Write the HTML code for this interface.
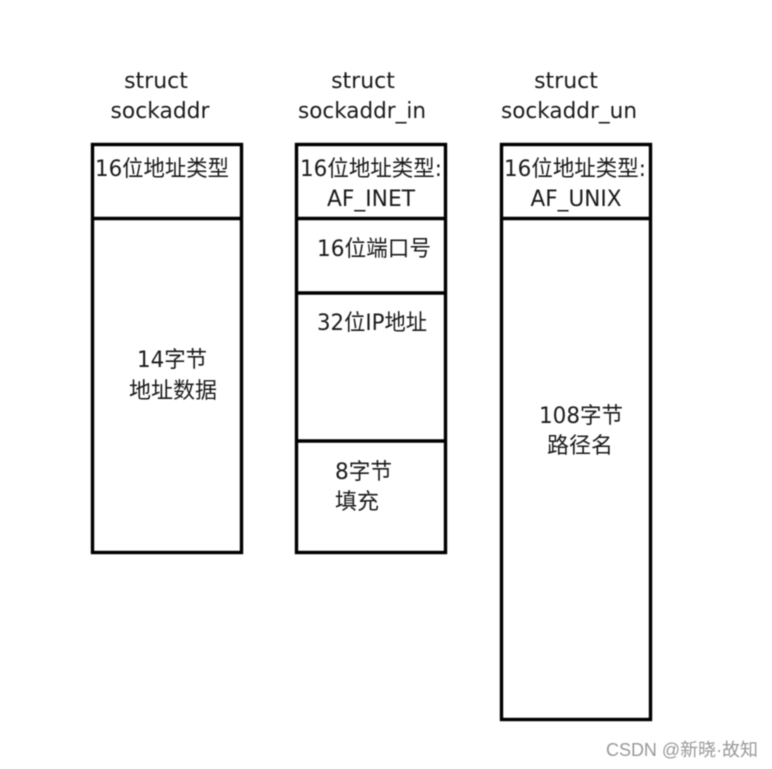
<!DOCTYPE html>
<html><head><meta charset="utf-8">
<style>
html,body{margin:0;padding:0;background:#fff}
svg{display:block;filter:blur(0.6px)}
text{font-family:"DejaVu Sans","WenQuanYi Zen Hei","Noto Sans CJK SC",sans-serif;font-size:22px;fill:#1a1a1a}
rect,line{stroke:#000;stroke-width:3.4;fill:none}
</style></head>
<body>
<svg width="772" height="769" viewBox="0 0 772 769" xmlns="http://www.w3.org/2000/svg">
<rect x="92.5" y="144.5" width="149" height="408"/>
<line x1="92" y1="218.5" x2="241" y2="218.5"/>
<rect x="296.5" y="144.5" width="149" height="408"/>
<line x1="296" y1="218.5" x2="445" y2="218.5"/>
<line x1="296" y1="293" x2="445" y2="293"/>
<line x1="296" y1="441" x2="445" y2="441"/>
<rect x="501.5" y="144.5" width="149" height="575"/>
<line x1="501" y1="218.5" x2="650" y2="218.5"/>

<text x="156" y="88" text-anchor="middle">struct</text>
<text x="160" y="118" text-anchor="middle" textLength="99" lengthAdjust="spacingAndGlyphs">sockaddr</text>
<text x="363" y="88" text-anchor="middle">struct</text>
<text x="362" y="118" text-anchor="middle" textLength="128" lengthAdjust="spacingAndGlyphs">sockaddr_in</text>
<text x="566" y="88" text-anchor="middle">struct</text>
<text x="569" y="118" text-anchor="middle" textLength="136" lengthAdjust="spacingAndGlyphs">sockaddr_un</text>

<text x="95" y="176" textLength="134" lengthAdjust="spacingAndGlyphs">16位地址类型</text>
<text x="137" y="367" textLength="70" lengthAdjust="spacingAndGlyphs">14字节</text>
<text x="129" y="398" textLength="88" lengthAdjust="spacingAndGlyphs">地址数据</text>

<text x="300" y="176" textLength="142" lengthAdjust="spacingAndGlyphs">16位地址类型:</text>
<text x="371" y="206" text-anchor="middle" textLength="88" lengthAdjust="spacingAndGlyphs">AF_INET</text>
<text x="317" y="256" textLength="114" lengthAdjust="spacingAndGlyphs">16位端口号</text>
<text x="317" y="330" textLength="110" lengthAdjust="spacingAndGlyphs">32位IP地址</text>
<text x="335" y="479" textLength="57" lengthAdjust="spacingAndGlyphs">8字节</text>
<text x="335" y="509" textLength="44" lengthAdjust="spacingAndGlyphs">填充</text>

<text x="504" y="176" textLength="142" lengthAdjust="spacingAndGlyphs">16位地址类型:</text>
<text x="576" y="206" text-anchor="middle" textLength="91" lengthAdjust="spacingAndGlyphs">AF_UNIX</text>
<text x="539" y="423" textLength="84" lengthAdjust="spacingAndGlyphs">108字节</text>
<text x="547" y="453" textLength="66" lengthAdjust="spacingAndGlyphs">路径名</text>

<text x="606" y="756" textLength="152" lengthAdjust="spacingAndGlyphs" style="font-family:'Liberation Sans','WenQuanYi Zen Hei',sans-serif;font-size:18px;fill:#999">CSDN @新晓·故知</text>
</svg>
</body></html>
